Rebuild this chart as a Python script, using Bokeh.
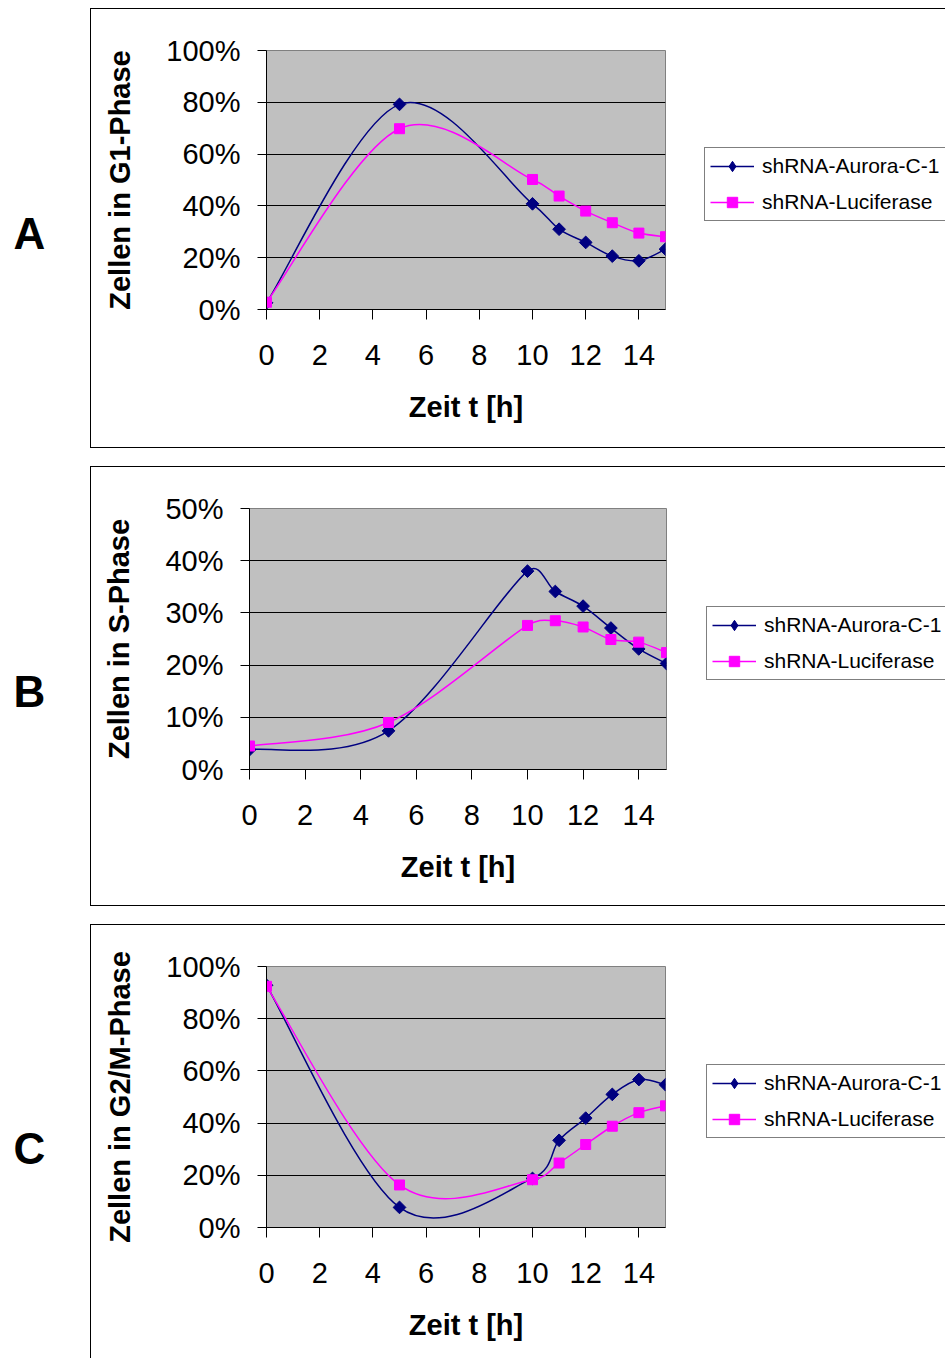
import numpy as np
from bokeh.plotting import figure
from bokeh.layouts import column, row
from bokeh.models import (Range1d, FixedTicker, PrintfTickFormatter, Legend, LegendItem,
                          Label, ColumnDataSource)
from bokeh.embed import file_html
from bokeh.resources import INLINE

# ---------------- data ----------------
t_hours = [0, 5, 10, 11, 12, 13, 14, 15]
series_names = ["shRNA-Aurora-C-1", "shRNA-Luciferase"]

g1_aurora = [2.6, 79.2, 40.8, 31.0, 25.9, 20.6, 18.8, 23.3]
g1_luc = [2.8, 69.8, 50.2, 43.8, 38.0, 33.5, 29.5, 28.1]

s_aurora = [3.8, 7.4, 38.0, 34.1, 31.3, 27.1, 23.1, 20.3]
s_luc = [4.5, 9.0, 27.6, 28.5, 27.3, 24.9, 24.4, 22.4]

g2m_aurora = [92.8, 7.7, 18.8, 33.4, 41.9, 51.0, 56.7, 54.7]
g2m_luc = [92.4, 16.3, 18.3, 24.7, 31.8, 38.8, 44.0, 46.6]

x_ticks = [0, 2, 4, 6, 8, 10, 12, 14]
y_ticks_100 = [0, 20, 40, 60, 80, 100]
y_ticks_50 = [0, 10, 20, 30, 40, 50]

panel_letters = ["A", "B", "C"]
y_labels = ["Zellen in G1-Phase", "Zellen in S-Phase", "Zellen in G2/M-Phase"]
x_label = "Zeit t [h]"

NAVY = "#000080"
MAGENTA = "#FF00FF"
FONT = "Liberation Sans"
LETTER_W = 90
PAGE_W = 946
BOX = "1px solid black"


def smooth_segments(x, y, kx, ky):
    """Excel-like smoothed line: cubic Bezier control points from the data."""
    X = np.asarray(x, float) * kx
    Y = np.asarray(y, float) * ky
    n = len(X)
    out = {k: [] for k in ("x0", "y0", "x1", "y1", "cx0", "cy0", "cx1", "cy1")}
    for i in range(n - 1):
        i0 = i - 1 if i > 0 else i
        i3 = i + 2 if i + 2 < n else i + 1
        P0 = np.array([X[i0], Y[i0]])
        P1 = np.array([X[i], Y[i]])
        P2 = np.array([X[i + 1], Y[i + 1]])
        P3 = np.array([X[i3], Y[i3]])
        d12 = np.hypot(*(P2 - P1))
        d02 = np.hypot(*(P2 - P0))
        d13 = np.hypot(*(P3 - P1))
        f1 = 1 / 6 if d02 / 6 < d12 / 2 else d12 / (2 * d02)
        f2 = 1 / 6 if d13 / 6 < d12 / 2 else d12 / (2 * d13)
        C1 = P1 + f1 * (P2 - P0)
        C2 = P2 - f2 * (P3 - P1)
        out["x0"].append(P1[0] / kx); out["y0"].append(P1[1] / ky)
        out["x1"].append(P2[0] / kx); out["y1"].append(P2[1] / ky)
        out["cx0"].append(C1[0] / kx); out["cy0"].append(C1[1] / ky)
        out["cx1"].append(C2[0] / kx); out["cy1"].append(C2[1] / ky)
    return ColumnDataSource(out)


def bare_figure(width, height, xr, yr, styles=None):
    f = figure(width=width, height=height, output_backend="svg", toolbar_location=None,
               x_range=xr, y_range=yr, x_axis_type=None, y_axis_type=None,
               min_border_left=0, min_border_right=0, min_border_top=0, min_border_bottom=0,
               styles=styles or {})
    f.outline_line_color = None
    f.background_fill_color = None
    f.border_fill_color = None
    f.grid.visible = False
    return f


def make_letter(letter, height, y_above_frame_bottom):
    # frames in a row are aligned with the chart's plot area; position relative to it
    f = bare_figure(LETTER_W, height, Range1d(0, 1), Range1d(0, 1))
    f.add_layout(Label(x=29, y=y_above_frame_bottom, x_units="screen", y_units="screen",
                       text=letter, text_font=FONT, text_font_size="44px",
                       text_font_style="bold", text_color="black",
                       text_align="center", text_baseline="middle"))
    return f


def make_panel(ylab, ymax, yticks, aurora, luc, height, frame, legend_pos, bottom_border):
    left, right, top, bottom = frame          # canvas coordinates of the plot area
    main_w = right + 5
    css = {"border-top": BOX, "border-left": BOX}
    css2 = {"border-top": BOX}
    if bottom_border:
        css["border-bottom"] = BOX
        css2["border-bottom"] = BOX
    p = figure(width=main_w, height=height, output_backend="svg", toolbar_location=None,
               x_range=Range1d(0, 15), y_range=Range1d(0, ymax),
               min_border_left=left, min_border_right=main_w - right,
               min_border_top=top, min_border_bottom=height - bottom,
               styles=css)
    fw = right - left
    fh = bottom - top
    kx = fw / 15.0
    ky = fh / float(ymax)
    p.background_fill_color = "#C0C0C0"
    p.border_fill_color = None
    p.outline_line_color = "#808080"
    p.outline_line_width = 1

    p.xgrid.visible = False
    p.ygrid.grid_line_color = "black"
    p.ygrid.grid_line_width = 1

    p.xaxis.ticker = FixedTicker(ticks=x_ticks)
    p.yaxis.ticker = FixedTicker(ticks=yticks)
    p.yaxis.formatter = PrintfTickFormatter(format="%d%%")
    for ax in (p.xaxis[0], p.yaxis[0]):
        ax.axis_line_color = "black"
        ax.major_tick_line_color = "black"
        ax.major_tick_in = 0
        ax.minor_tick_line_color = None
        ax.major_label_text_font = FONT
        ax.major_label_text_font_size = "29px"
        ax.major_label_text_color = "black"
        ax.axis_label_text_font = FONT
        ax.axis_label_text_font_size = "29px"
        ax.axis_label_text_font_style = "bold"
        ax.axis_label_text_color = "black"
    p.xaxis.major_tick_out = 10
    p.yaxis.major_tick_out = 9
    p.xaxis.major_label_standoff = 25
    p.yaxis.major_label_standoff = 17
    p.xaxis.axis_label = x_label
    p.yaxis.axis_label = ylab
    p.xaxis.axis_label_standoff = 23
    p.yaxis.axis_label_standoff = 27

    src_a = ColumnDataSource(dict(x=t_hours, y=aurora))
    src_l = ColumnDataSource(dict(x=t_hours, y=luc))
    bz_a = smooth_segments(t_hours, aurora, kx, ky)
    bz_l = smooth_segments(t_hours, luc, kx, ky)
    bz_kw = dict(x0="x0", y0="y0", x1="x1", y1="y1", cx0="cx0", cy0="cy0", cx1="cx1", cy1="cy1")
    p.bezier(source=bz_a, line_color=NAVY, line_width=1.5, **bz_kw)
    p.scatter(x="x", y="y", source=src_a, marker="square", angle=np.pi / 4, size=9,
              fill_color=NAVY, line_color=NAVY)
    p.bezier(source=bz_l, line_color=MAGENTA, line_width=1.5, **bz_kw)
    p.scatter(x="x", y="y", source=src_l, marker="square", size=10,
              fill_color=MAGENTA, line_color=MAGENTA)

    # legend area (right part of the boxed chart)
    lw = PAGE_W - LETTER_W - main_w - 1
    lg = bare_figure(lw, height, Range1d(0, 15), Range1d(0, ymax), styles=css2)
    la_line = lg.bezier(source=bz_a, line_color=NAVY, line_width=1.5, visible=False, **bz_kw)
    la_pts = lg.scatter(x="x", y="y", source=src_a, marker="diamond", size=9,
                        fill_color=NAVY, line_color=NAVY, visible=False)
    ll_line = lg.bezier(source=bz_l, line_color=MAGENTA, line_width=1.5, visible=False, **bz_kw)
    ll_pts = lg.scatter(x="x", y="y", source=src_l, marker="square", size=10,
                        fill_color=MAGENTA, line_color=MAGENTA, visible=False)
    legend = Legend(items=[LegendItem(label=series_names[0], renderers=[la_line, la_pts]),
                           LegendItem(label=series_names[1], renderers=[ll_line, ll_pts])],
                    location=legend_pos, orientation="vertical", click_policy="none",
                    label_text_font=FONT, label_text_font_size="21px", label_text_color="black",
                    glyph_width=44, glyph_height=26, label_height=26, label_width=200,
                    label_standoff=8, spacing=10, padding=5, margin=0,
                    border_line_color="black", border_line_width=1,
                    background_fill_color="white", background_fill_alpha=1.0)
    lg.add_layout(legend)
    return p, lg


# canvas coordinates (inside the 1px box border)
pA, gA = make_panel(y_labels[0], 100, y_ticks_100, g1_aurora, g1_luc, 440,
                    (175, 574, 41, 300), (35, 88), True)
pB, gB = make_panel(y_labels[1], 50, y_ticks_50, s_aurora, s_luc, 440,
                    (158, 575, 41, 302), (36, 89), True)
pC, gC = make_panel(y_labels[2], 100, y_ticks_100, g2m_aurora, g2m_luc, 434,
                    (175, 574, 41, 302), (37, 89), False)

lA = make_letter(panel_letters[0], 442, 77)
lB = make_letter(panel_letters[1], 442, 79)
lC = make_letter(panel_letters[2], 435, 79)

layout = column(row(lA, pA, gA, spacing=0), row(lB, pB, gB, spacing=0),
                row(lC, pC, gC, spacing=0), spacing=16, margin=(8, 0, 0, 0))
open("out.html", "w").write(file_html(layout, INLINE))
